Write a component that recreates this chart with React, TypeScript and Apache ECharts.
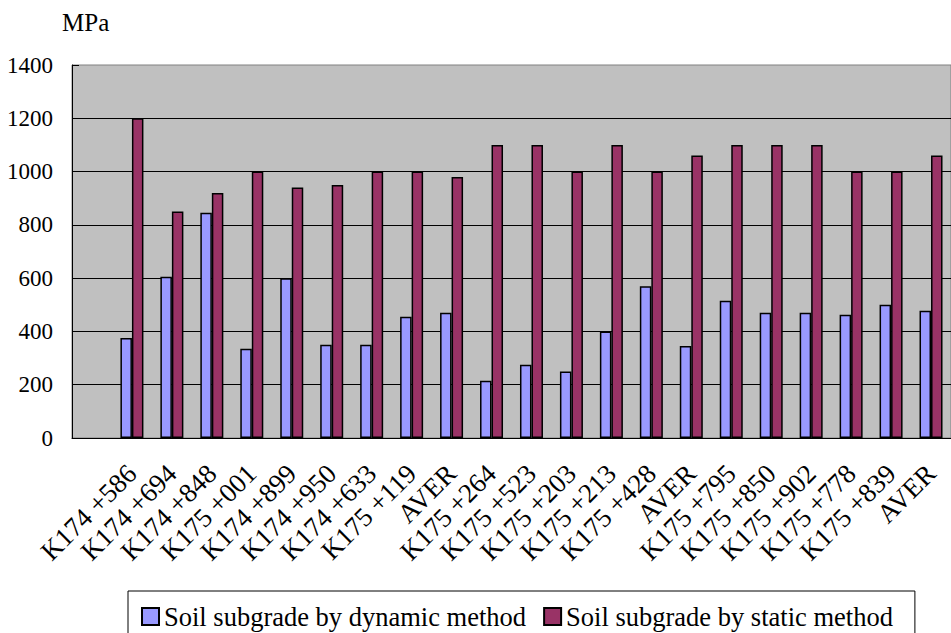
import React, { useEffect, useRef } from "react";
import * as echarts from "echarts";

// Station chainages along the subgrade (AVER = mean of the preceding group)
const categories = [
  "K174 +586", "K174 +694", "K174 +848", "K175 +001", "K174 +899", "K174 +950",
  "K174 +633", "K175 +119", "AVER", "K175 +264", "K175 +523", "K175 +203",
  "K175 +213", "K175 +428", "AVER", "K175 +795", "K175 +850", "K175 +902",
  "K175 +778", "K175 +839", "AVER",
];

// Modulus in MPa
const dynamicValues = [
  375, 605, 845, 335, 600, 350, 350, 455, 470, 215, 275, 250, 400, 570, 345,
  515, 470, 470, 463, 500, 478,
];
const staticValues = [
  1200, 850, 920, 1000, 940, 950, 1000, 1000, 980, 1100, 1100, 1000, 1100,
  1000, 1060, 1100, 1100, 1100, 1000, 1000, 1060,
];

const seriesNames = [
  "Soil subgrade by dynamic method",
  "Soil subgrade by static method",
];

const FONT = "Liberation Serif";

export default function App() {
  const ref = useRef<HTMLDivElement>(null);

  useEffect(() => {
    if (!ref.current) return;
    const chart = echarts.init(ref.current, undefined, { renderer: "svg" });

    // leading empty slot keeps the first station one category in from the axis
    const xCats = ["", ...categories];
    const dyn = ["-", ...dynamicValues];
    const sta = ["-", ...staticValues];

    chart.setOption({
      animation: false,
      backgroundColor: "#ffffff",
      textStyle: { fontFamily: FONT },
      title: {
        text: "MPa",
        left: 57,
        top: 5,
        textStyle: {
          fontFamily: FONT,
          fontSize: 25,
          fontWeight: "normal",
          color: "#000",
        },
      },
      grid: {
        left: 72,
        top: 65,
        width: 887,
        height: 373,
        show: true,
        backgroundColor: "#C0C0C0",
        borderColor: "#808080",
        borderWidth: 1,
      },
      legend: {
        left: 128,
        top: 591,
        padding: [12, 22, 14, 13],
        itemGap: 17,
        itemWidth: 17,
        itemHeight: 17,
        icon: "rect",
        borderColor: "#000",
        borderWidth: 1,
        backgroundColor: "#fff",
        textStyle: { fontFamily: FONT, fontSize: 26.5, color: "#000" },
        data: seriesNames,
      },
      xAxis: {
        type: "category",
        data: xCats,
        boundaryGap: true,
        axisLine: { lineStyle: { color: "#000", width: 1 } },
        axisTick: {
          inside: true,
          length: 7,
          interval: 0,
          lineStyle: { color: "#000" },
        },
        axisLabel: {
          interval: 0,
          rotate: 45,
          margin: 31,
          fontFamily: FONT,
          fontSize: 27,
          color: "#000",
        },
        splitLine: { show: false },
      },
      yAxis: {
        type: "value",
        min: 0,
        max: 1400,
        interval: 200,
        axisLine: { show: true, lineStyle: { color: "#000", width: 1 } },
        axisTick: { show: true, inside: true, length: 7, lineStyle: { color: "#000" } },
        axisLabel: {
          margin: 19,
          fontFamily: FONT,
          fontSize: 23,
          color: "#000",
          formatter: (v: number) => String(v),
        },
        splitLine: {
          show: true,
          showMaxLine: false,
          lineStyle: { color: "#000", width: 1 },
        },
      },
      series: [
        {
          name: seriesNames[0],
          type: "bar",
          data: dyn,
          barWidth: 11.5,
          barGap: "0%",
          itemStyle: { color: "#9999FF", borderColor: "#000", borderWidth: 1.5 },
        },
        {
          name: seriesNames[1],
          type: "bar",
          data: sta,
          barWidth: 11.5,
          barGap: "0%",
          itemStyle: { color: "#993366", borderColor: "#000", borderWidth: 1.5 },
        },
      ],
    });

    return () => chart.dispose();
  }, []);

  return (
    <div
      ref={ref}
      style={{ position: "absolute", left: 0, top: 0, width: 951, height: 633 }}
    />
  );
}
